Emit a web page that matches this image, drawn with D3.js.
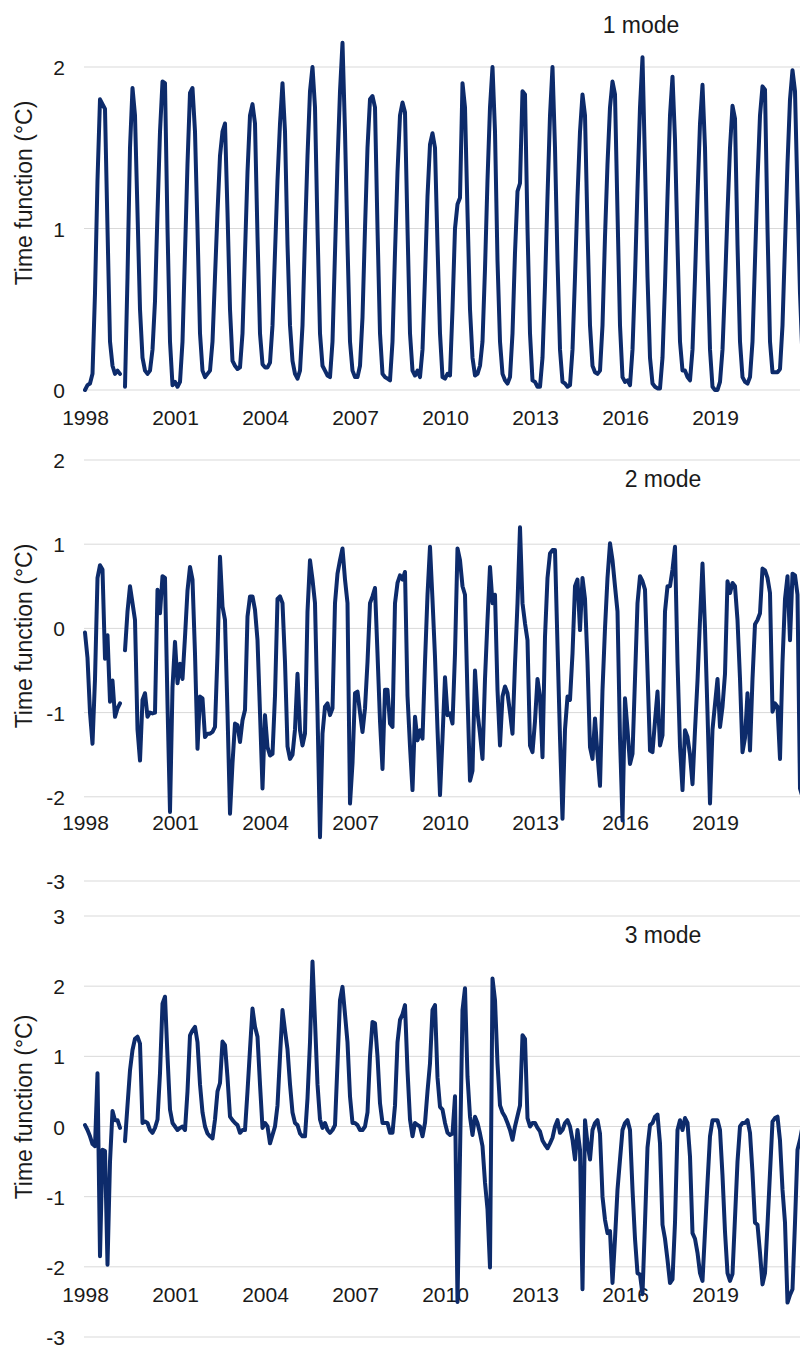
<!DOCTYPE html>
<html>
<head>
<meta charset="utf-8">
<script src="https://cdn.jsdelivr.net/npm/d3@7"></script>
<style>
  html, body { margin: 0; padding: 0; background: #fff; overflow: hidden; }
  text { font-family: "Liberation Sans", Arial, sans-serif; fill: #1a1a1a; }
</style>
</head>
<body>
<div id="chart"></div>
<script>
// monthly time functions, Jan 1998 .. Dec 2021 (one row per year), null = missing month
var mode1 = [
  0.00, 0.03, 0.04, 0.10, 0.60, 1.30, 1.80, 1.77, 1.74, 1.00, 0.30, 0.15,
  0.10, 0.12, 0.10, null, 0.02, 0.70, 1.50, 1.87, 1.70, 1.10, 0.50, 0.20,
  0.12, 0.10, 0.12, 0.25, 0.55, 1.10, 1.60, 1.91, 1.90, 1.00, 0.30, 0.03,
  0.05, 0.02, 0.05, 0.30, 0.85, 1.40, 1.84, 1.87, 1.60, 1.00, 0.35, 0.12,
  0.08, 0.10, 0.12, 0.30, 0.70, 1.10, 1.45, 1.60, 1.65, 1.10, 0.50, 0.18,
  0.15, 0.13, 0.14, 0.35, 0.85, 1.35, 1.70, 1.77, 1.65, 0.95, 0.35, 0.16,
  0.14, 0.14, 0.17, 0.40, 0.85, 1.30, 1.65, 1.90, 1.60, 0.90, 0.40, 0.18,
  0.10, 0.07, 0.12, 0.40, 0.95, 1.45, 1.85, 2.00, 1.75, 1.00, 0.35, 0.15,
  0.12, 0.09, 0.08, 0.30, 0.85, 1.40, 1.85, 2.15, 1.60, 0.90, 0.30, 0.12,
  0.08, 0.08, 0.15, 0.45, 1.00, 1.50, 1.80, 1.82, 1.75, 1.00, 0.35, 0.10,
  0.08, 0.07, 0.06, 0.30, 0.85, 1.35, 1.70, 1.78, 1.72, 1.00, 0.35, 0.12,
  0.09, 0.12, 0.08, 0.25, 0.70, 1.20, 1.52, 1.59, 1.50, 0.90, 0.35, 0.08,
  0.07, 0.10, 0.09, 0.50, 1.00, 1.15, 1.19, 1.90, 1.75, 1.10, 0.50, 0.20,
  0.09, 0.10, 0.15, 0.30, 0.75, 1.30, 1.75, 2.00, 1.60, 0.80, 0.30, 0.10,
  0.06, 0.04, 0.08, 0.35, 0.85, 1.23, 1.28, 1.85, 1.83, 1.00, 0.35, 0.06,
  0.05, 0.02, 0.02, 0.20, 0.65, 1.20, 1.70, 2.00, 1.50, 0.80, 0.25, 0.05,
  0.04, 0.02, 0.03, 0.25, 0.70, 1.20, 1.60, 1.83, 1.70, 1.00, 0.40, 0.15,
  0.11, 0.10, 0.12, 0.40, 0.95, 1.40, 1.75, 1.91, 1.83, 1.10, 0.40, 0.08,
  0.05, 0.06, 0.03, 0.25, 0.70, 1.25, 1.75, 2.06, 1.40, 0.70, 0.20, 0.04,
  0.02, 0.01, 0.01, 0.20, 0.65, 1.20, 1.70, 1.94, 1.55, 0.90, 0.30, 0.12,
  0.12, 0.08, 0.06, 0.25, 0.70, 1.20, 1.65, 1.89, 1.50, 0.80, 0.25, 0.02,
  0.00, 0.00, 0.05, 0.25, 0.65, 1.10, 1.50, 1.76, 1.68, 0.90, 0.30, 0.08,
  0.05, 0.04, 0.08, 0.30, 0.80, 1.30, 1.70, 1.88, 1.86, 1.00, 0.30, 0.11,
  0.11, 0.11, 0.13, 0.40, 0.90, 1.40, 1.80, 1.98, 1.85, 1.20, 0.60, 0.20
];

var mode2 = [
  -0.05, -0.35, -1.00, -1.37, -0.60, 0.60, 0.75, 0.70, -0.36, -0.08, -0.87, -0.62,
  -1.05, -0.95, -0.89, null, -0.26, 0.20, 0.50, 0.30, 0.10, -1.20, -1.57, -0.85,
  -0.77, -1.05, -1.00, -1.01, -1.00, 0.46, 0.18, 0.62, 0.60, -0.90, -2.18, -0.70,
  -0.16, -0.65, -0.42, -0.60, -0.10, 0.45, 0.73, 0.58, -0.30, -1.43, -0.81, -0.83,
  -1.29, -1.25, -1.25, -1.23, -1.17, -0.30, 0.85, 0.26, 0.10, -1.00, -2.20, -1.60,
  -1.13, -1.15, -1.35, -1.09, -0.97, 0.14, 0.38, 0.38, 0.22, -0.14, -1.00, -1.90,
  -1.03, -1.41, -1.51, -1.49, -0.80, 0.35, 0.38, 0.30, -0.40, -1.40, -1.55, -1.50,
  -1.20, -0.54, -1.21, -1.39, -1.25, 0.20, 0.81, 0.58, 0.30, -1.00, -2.48, -1.25,
  -0.93, -0.89, -1.03, -0.95, 0.30, 0.65, 0.81, 0.95, 0.58, 0.30, -2.08, -1.60,
  -0.77, -0.75, -1.00, -1.23, -0.95, -0.40, 0.30, 0.38, 0.48, -0.30, -1.10, -1.67,
  -0.73, -0.73, -1.13, -1.17, 0.30, 0.54, 0.63, 0.58, 0.67, -0.80, -1.40, -1.92,
  -1.05, -1.33, -1.21, -1.31, -0.40, 0.40, 0.97, 0.34, -0.34, -1.20, -1.98, -1.30,
  -0.58, -1.03, -1.01, -1.13, -0.30, 0.95, 0.81, 0.50, 0.40, -0.80, -1.81, -1.69,
  -0.50, -1.00, -1.25, -1.55, -0.60, 0.10, 0.73, 0.30, 0.40, -0.73, -1.39, -0.81,
  -0.69, -0.77, -1.00, -1.25, -0.42, 0.30, 1.20, 0.30, 0.06, -0.14, -1.39, -1.47,
  -1.10, -0.60, -0.81, -1.53, -0.10, 0.60, 0.89, 0.93, 0.93, -0.20, -1.30, -2.26,
  -1.20, -0.81, -0.85, -0.30, 0.50, 0.58, -0.02, 0.60, 0.35, -0.40, -1.41, -1.55,
  -1.07, -1.50, -1.87, -0.73, 0.00, 0.60, 1.01, 0.81, 0.50, 0.20, -1.30, -2.28,
  -0.83, -1.20, -1.61, -1.49, -0.60, 0.30, 0.62, 0.56, 0.46, -0.50, -1.45, -1.47,
  -1.10, -0.75, -1.39, -1.27, 0.20, 0.50, 0.50, 0.70, 0.97, -0.40, -1.40, -1.92,
  -1.21, -1.29, -1.50, -1.85, -1.21, -0.62, 0.10, 0.77, 0.00, -1.00, -2.08, -1.20,
  -0.90, -0.60, -1.17, -0.93, -0.54, 0.56, 0.42, 0.54, 0.50, 0.10, -0.60, -1.47,
  -1.30, -0.77, -1.45, -0.60, 0.05, 0.10, 0.18, 0.71, 0.69, 0.60, 0.42, -0.99,
  -0.89, -0.93, -1.55, -0.40, 0.35, 0.62, -0.14, 0.65, 0.63, 0.40, -1.90, -2.00
];

var mode3 = [
  0.02, -0.05, -0.14, -0.25, -0.28, 0.76, -1.85, -0.33, -0.35, -1.97, -0.50, 0.22,
  0.09, 0.09, -0.02, null, -0.21, 0.30, 0.80, 1.09, 1.25, 1.28, 1.18, 0.05,
  0.07, 0.05, -0.05, -0.09, -0.02, 0.10, 0.76, 1.75, 1.85, 1.00, 0.24, 0.05,
  0.00, -0.05, -0.02, 0.00, -0.05, 0.50, 1.30, 1.37, 1.42, 1.20, 0.60, 0.20,
  0.00, -0.10, -0.14, -0.17, 0.10, 0.50, 0.62, 1.21, 1.16, 0.70, 0.14, 0.09,
  0.05, 0.02, -0.09, -0.05, -0.05, 0.50, 1.10, 1.68, 1.42, 1.28, 0.60, -0.02,
  0.05, 0.00, -0.24, -0.12, 0.00, 0.30, 1.00, 1.66, 1.37, 1.10, 0.60, 0.20,
  0.05, 0.02, -0.10, -0.14, -0.14, 0.40, 1.20, 2.35, 1.50, 0.60, 0.10, -0.02,
  0.05, -0.05, -0.09, -0.05, 0.02, 0.90, 1.80, 1.99, 1.60, 1.20, 0.43, 0.05,
  0.05, 0.02, -0.05, -0.05, 0.00, 0.20, 1.00, 1.49, 1.47, 1.00, 0.33, 0.05,
  0.05, 0.05, -0.09, -0.09, 0.30, 1.20, 1.52, 1.60, 1.73, 0.80, 0.10, -0.14,
  0.05, 0.02, 0.00, -0.14, 0.05, 0.50, 0.90, 1.66, 1.73, 0.70, 0.28, 0.24,
  0.05, -0.09, -0.12, -0.10, 0.43, -2.50, -0.40, 1.66, 1.97, 0.71, 0.14, -0.12,
  0.14, 0.05, -0.10, -0.28, -0.80, -1.18, -2.01, 2.11, 1.80, 0.90, 0.30, 0.20,
  0.14, 0.05, -0.05, -0.19, 0.00, 0.15, 0.30, 1.30, 1.25, 0.12, 0.00, 0.05,
  0.05, -0.02, -0.07, -0.20, -0.26, -0.31, -0.24, -0.16, 0.00, 0.09, -0.09, -0.05,
  0.05, 0.09, 0.00, -0.19, -0.47, -0.05, -0.33, -2.32, 0.09, -0.24, -0.47, -0.05,
  0.05, 0.09, -0.10, -1.00, -1.33, -1.52, -1.49, -2.23, -1.60, -0.90, -0.47, -0.05,
  0.05, 0.09, -0.05, -0.90, -1.60, -2.09, -2.11, -2.39, -1.37, -0.30, 0.02, 0.05,
  0.14, 0.17, -0.24, -1.40, -1.60, -1.90, -2.23, -2.18, -1.37, -0.05, 0.09, -0.05,
  0.12, 0.05, -0.43, -1.52, -1.60, -1.80, -2.09, -2.20, -1.50, -0.80, -0.14, 0.09,
  0.09, 0.09, -0.05, -0.70, -1.50, -2.09, -2.20, -2.10, -1.30, -0.50, 0.00, 0.05,
  0.05, 0.09, -0.09, -0.66, -1.37, -1.40, -1.80, -2.25, -2.09, -1.40, -0.66, 0.07,
  0.12, 0.14, -0.20, -0.90, -1.37, -2.51, -2.40, -2.32, -1.37, -0.33, -0.19, 0.00
];

var startYear = 1998;
var xTickYears = [1998, 2001, 2004, 2007, 2010, 2013, 2016, 2019];
var modeTitles = ["1 mode", "2 mode", "3 mode"];
var yTicks1 = [0, 1, 2];
var yTicks2 = [-3, -2, -1, 0, 1, 2];
var yTicks3 = [-3, -2, -1, 0, 1, 2, 3];
var yLabel = "Time function (\u00B0C)";

var width = 800, height = 1345;
var plotLeft = 84, plotRight = 800;
var lineColor = "#0d2b6b";

var svg = d3.select("#chart").append("svg")
    .attr("width", width)
    .attr("height", height);

// month index -> x; one year = 30px
var x = d3.scaleLinear()
    .domain([0, 12])
    .range([85, 115]);

var panels = [
  {data: mode1, ticks: yTicks1, domain: [0, 2], range: [390, 67], labelY: 425, titleX: 641, titleY: 33, axisTitleY: 193},
  {data: mode2, ticks: yTicks2, domain: [-3, 2], range: [881, 460], labelY: 830, titleX: 663, titleY: 487, axisTitleY: 636},
  {data: mode3, ticks: yTicks3, domain: [-3, 3], range: [1337, 916], labelY: 1302, titleX: 663, titleY: 943, axisTitleY: 1107}
];

panels.forEach(function(p, k) {
    var g = svg.append("g");
    var y = d3.scaleLinear().domain(p.domain).range(p.range);

    // gridlines
    g.selectAll(".grid")
        .data(p.ticks)
        .enter().append("line")
        .attr("x1", plotLeft)
        .attr("x2", plotRight)
        .attr("y1", function(d) { return y(d); })
        .attr("y2", function(d) { return y(d); })
        .attr("stroke", "#d9d9d9")
        .attr("stroke-width", 1);

    // y axis labels (plain hyphen for negatives, like the original)
    var yAxis = g.append("g")
        .attr("transform", "translate(" + plotLeft + ",0)")
        .call(d3.axisLeft(y).tickValues(p.ticks).tickSize(0).tickPadding(19)
            .tickFormat(function(d) { return String(d); }));
    yAxis.select(".domain").remove();
    yAxis.selectAll("text")
        .attr("dy", "0.36em")
        .style("font-size", "21px")
        .style("font-family", "Liberation Sans, Arial, sans-serif")
        .attr("fill", "#1a1a1a");

    // x axis labels
    var xAxis = g.append("g")
        .attr("transform", "translate(0," + (p.labelY - 15) + ")")
        .call(d3.axisBottom(x)
            .tickValues(xTickYears.map(function(yr) { return (yr - startYear) * 12; }))
            .tickSize(0).tickPadding(0)
            .tickFormat(function(i) { return startYear + i / 12; }));
    xAxis.select(".domain").remove();
    xAxis.selectAll("text")
        .style("font-size", "21px")
        .style("font-family", "Liberation Sans, Arial, sans-serif")
        .attr("fill", "#1a1a1a");

    // series line
    var line = d3.line()
        .defined(function(d) { return d != null; })
        .x(function(d, i) { return x(i); })
        .y(function(d) { return y(d); });

    g.append("path")
        .datum(p.data)
        .attr("d", line)
        .attr("fill", "none")
        .attr("stroke", lineColor)
        .attr("stroke-width", 4)
        .attr("stroke-linejoin", "round")
        .attr("stroke-linecap", "round");

    // titles
    g.append("text")
        .attr("x", p.titleX)
        .attr("y", p.titleY)
        .attr("text-anchor", "middle")
        .style("font-size", "23px")
        .text(modeTitles[k]);

    g.append("text")
        .attr("transform", "translate(32," + p.axisTitleY + ") rotate(-90)")
        .attr("text-anchor", "middle")
        .style("font-size", "23px")
        .text(yLabel);
});
</script>
</body>
</html>
